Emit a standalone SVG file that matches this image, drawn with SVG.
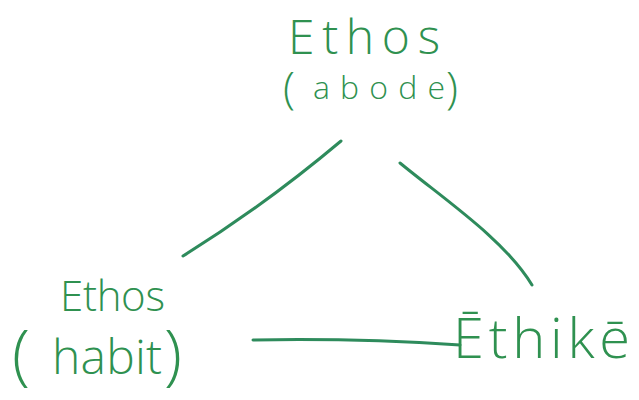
<svg xmlns="http://www.w3.org/2000/svg" width="639" height="400" viewBox="0 0 639 400">
  <style>
    .lbl { font-family: "Open Sans", "Liberation Sans", sans-serif; font-weight: 300; fill: #2f9150; }
    .edge { fill: none; stroke: #2e8b5c; stroke-width: 3; stroke-linecap: round; }
  </style>
  <rect width="639" height="400" fill="#ffffff"/>

  <g id="connectors">
    <path class="edge" d="M183,256 Q265,205 341,141"/>
    <path class="edge" d="M400,163 C445,200 505,240 532,285"/>
    <path class="edge" d="M253,340 Q355,338 460,345"/>
  </g>

  <g id="node-ethos-abode">
    <text class="lbl" x="288" y="54" font-size="48" textLength="152" lengthAdjust="spacing">Ethos</text>
    <text class="lbl" x="283" y="104" font-size="44">(</text>
    <text class="lbl" x="313" y="99" font-size="32" textLength="132" lengthAdjust="spacing">abode</text>
    <text class="lbl" x="446" y="104" font-size="44">)</text>
  </g>

  <g id="node-ethos-habit">
    <text class="lbl" x="60" y="311" font-size="42" textLength="105" lengthAdjust="spacing">Ethos</text>
    <text class="lbl" x="12" y="378" font-size="66">(</text>
    <text class="lbl" x="52" y="374" font-size="48" textLength="110" lengthAdjust="spacing">habit</text>
    <text class="lbl" x="164" y="378" font-size="66">)</text>
  </g>

  <g id="node-ethike">
    <text class="lbl" x="453" y="358" font-size="56" textLength="177" lengthAdjust="spacing">Ēthikē</text>
  </g>
</svg>
